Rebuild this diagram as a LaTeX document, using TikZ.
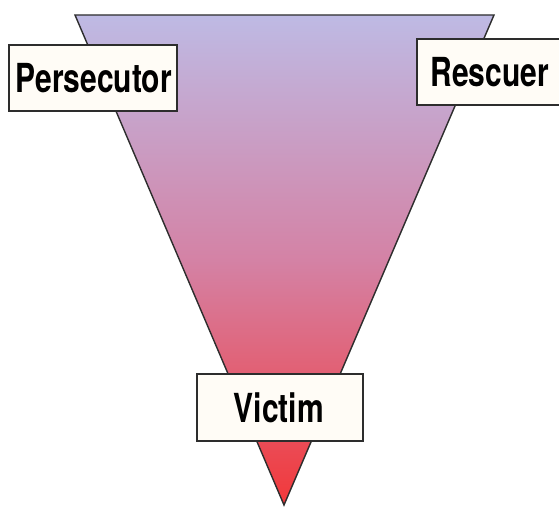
\documentclass[tikz,border=0pt]{standalone}
\usepackage{fontspec}
\newfontfamily\condfont[FakeStretch=0.75]{TeX Gyre Heros}
\definecolor{topc}{RGB}{190,186,228}
\definecolor{midc}{RGB}{212,130,165}
\definecolor{botc}{RGB}{242,56,58}
\definecolor{boxfill}{RGB}{255,252,246}
\definecolor{edge}{RGB}{45,45,45}
\tikzset{
  label box/.style={draw=edge, line width=1.6pt, fill=boxfill, inner sep=0pt,
    font=\condfont\bfseries\fontsize{40}{42}\selectfont, text=black, anchor=north west}
}
\begin{document}
\begin{tikzpicture}[x=1pt,y=-1pt]
\useasboundingbox (0,0) rectangle (559,508);
\coordinate (tl) at (75,15);
\coordinate (tr) at (494,15);
\coordinate (bt) at (284,505);
\shade[top color=topc, bottom color=botc, middle color=midc, draw=edge, line width=1.4pt, line join=miter]
  (tl) -- (tr) -- (bt) -- cycle;
\node[label box, minimum width=168pt, minimum height=66pt] (pers) at (8,44) {\hspace*{2pt}Persecutor};
\node[label box, minimum width=150pt, minimum height=66pt] (resc) at (416,38) {\hspace*{-4pt}Rescuer};
\node[label box, minimum width=166pt, minimum height=67pt] (vict) at (196,373) {\hspace*{-2pt}Victim};
\end{tikzpicture}
\end{document}
